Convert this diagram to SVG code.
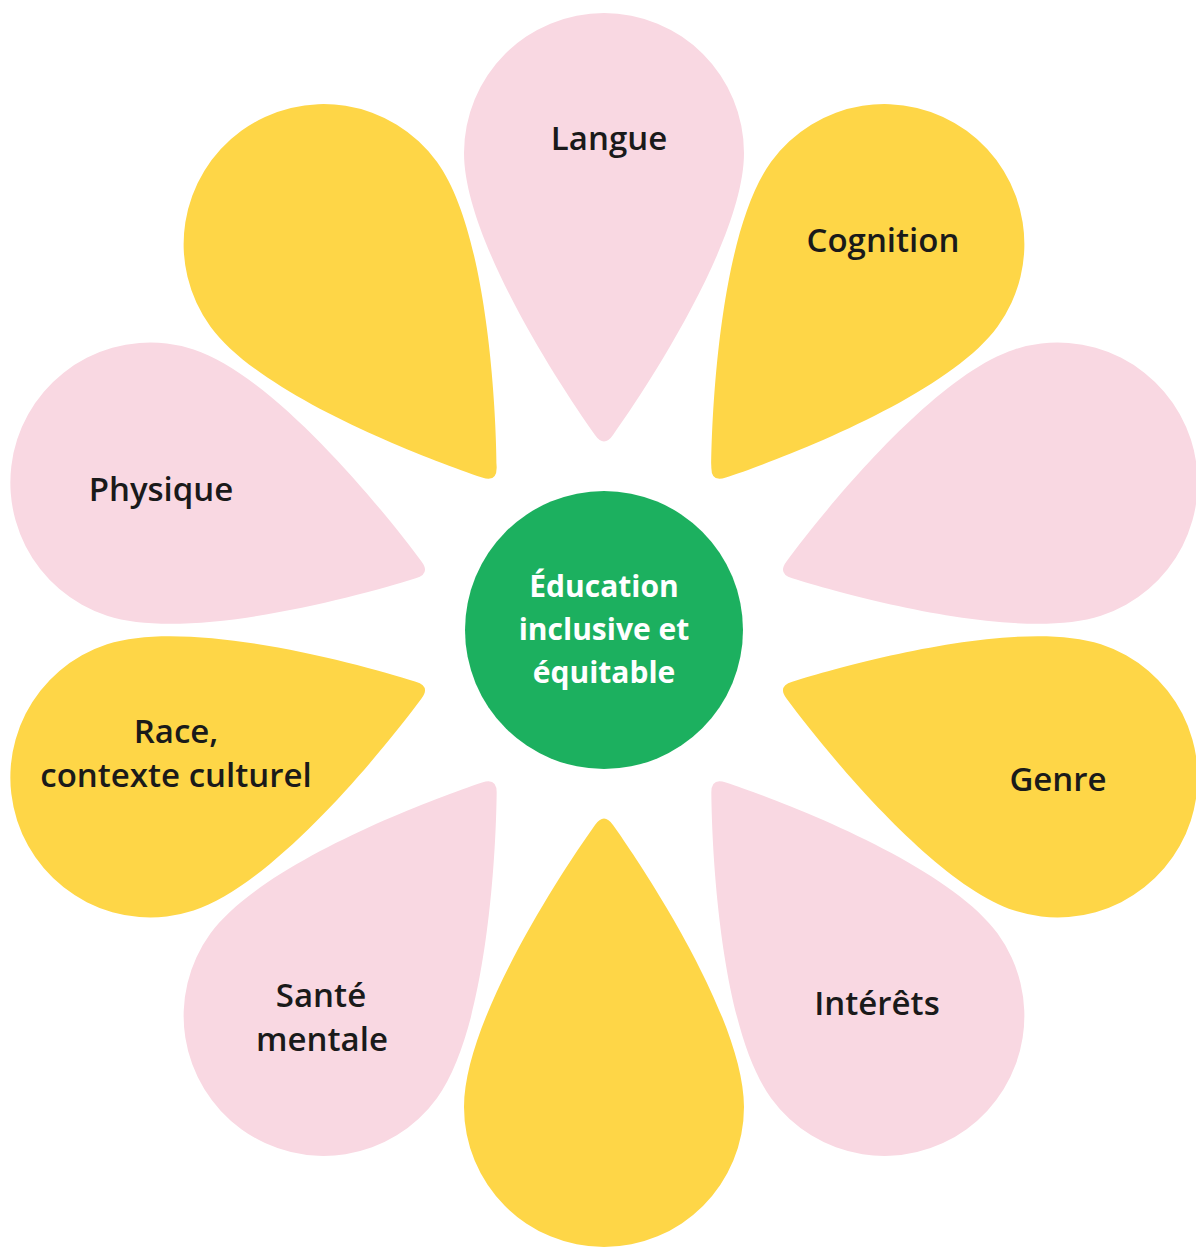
<svg xmlns="http://www.w3.org/2000/svg" xmlns:xlink="http://www.w3.org/1999/xlink" width="1196" height="1247" viewBox="0 0 1196 1247">
  <style>
    .pink { fill: #F9D8E2; }
    .yellow { fill: #FED647; }
    .label { font-family: "Open Sans", "Noto Sans", "Liberation Sans", sans-serif; font-size: 33px; font-weight: 600; fill: #1A1A1A; text-anchor: middle; }
    .center-label { font-family: "Open Sans", "Noto Sans", "Liberation Sans", sans-serif; font-size: 30px; font-weight: 700; fill: #FFFFFF; text-anchor: middle; }
  </style>
  <defs>
    <path id="petal" d="M -140,0 A 140 140 0 0 1 140 0 C 140,85 46,230 9,282 Q 0,295 -9,282 C -46,230 -140,85 -140,0 Z" transform="translate(604 153)"/>
  </defs>
  <rect x="0" y="0" width="1196" height="1247" fill="#FFFFFF"/>
  <g id="connectors"></g>
  <g id="petal-langue">
    <use xlink:href="#petal" href="#petal" class="pink" transform="rotate(0 604 630)"/>
    <text class="label" x="609" y="150">Langue</text>
  </g>
  <g id="petal-cognition">
    <use xlink:href="#petal" href="#petal" class="yellow" transform="rotate(36 604 630)"/>
    <text class="label" x="883" y="252">Cognition</text>
  </g>
  <g id="petal-right-pink">
    <use xlink:href="#petal" href="#petal" class="pink" transform="rotate(72 604 630)"/>
  </g>
  <g id="petal-genre">
    <use xlink:href="#petal" href="#petal" class="yellow" transform="rotate(108 604 630)"/>
    <text class="label" x="1058" y="791">Genre</text>
  </g>
  <g id="petal-interets">
    <use xlink:href="#petal" href="#petal" class="pink" transform="rotate(144 604 630)"/>
    <text class="label" x="877" y="1015">Intérêts</text>
  </g>
  <g id="petal-bottom-yellow">
    <use xlink:href="#petal" href="#petal" class="yellow" transform="rotate(180 604 630)"/>
  </g>
  <g id="petal-sante-mentale">
    <use xlink:href="#petal" href="#petal" class="pink" transform="rotate(216 604 630)"/>
    <text class="label" x="321" y="1007">Santé</text>
    <text class="label" x="322" y="1051">mentale</text>
  </g>
  <g id="petal-race">
    <use xlink:href="#petal" href="#petal" class="yellow" transform="rotate(252 604 630)"/>
    <text class="label" x="176" y="743">Race,</text>
    <text class="label" x="176" y="787">contexte culturel</text>
  </g>
  <g id="petal-physique">
    <use xlink:href="#petal" href="#petal" class="pink" transform="rotate(288 604 630)"/>
    <text class="label" x="161" y="501">Physique</text>
  </g>
  <g id="petal-top-left-yellow">
    <use xlink:href="#petal" href="#petal" class="yellow" transform="rotate(324 604 630)"/>
  </g>
  <g id="center">
    <circle cx="604" cy="630" r="139" fill="#1CB05F"/>
    <text class="center-label" x="604" y="597">Éducation</text>
    <text class="center-label" x="604" y="640">inclusive et</text>
    <text class="center-label" x="604" y="683">équitable</text>
  </g>
</svg>
